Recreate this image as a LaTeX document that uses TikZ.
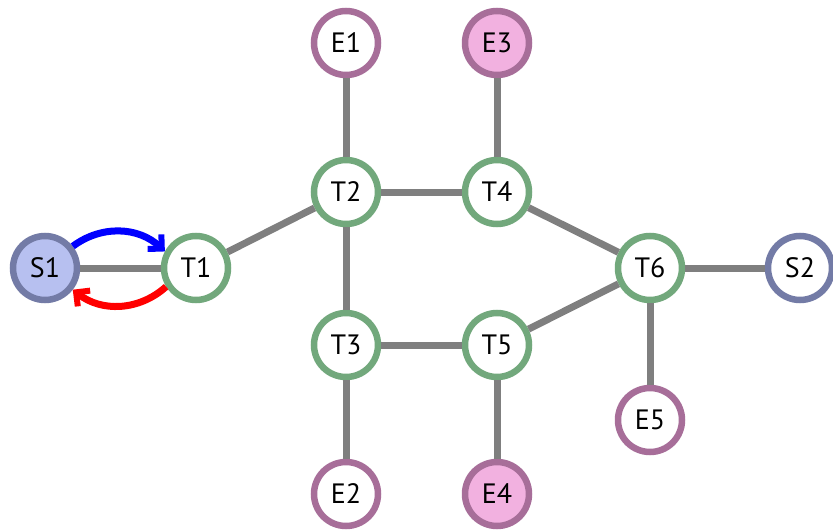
\documentclass[tikz,border=0pt]{standalone}
\usepackage{fontspec}
\setmainfont{PT Sans}
\usetikzlibrary{arrows.meta}
\definecolor{edgegray}{HTML}{7F7F7F}
\definecolor{tgreen}{HTML}{72A87C}
\definecolor{epurple}{HTML}{A76E99}
\definecolor{sblue}{HTML}{737BA6}
\definecolor{sfill}{HTML}{B7C0F0}
\definecolor{pinkfill}{HTML}{F2B1E0}
\begin{document}
\begin{tikzpicture}[x=1pt,y=-1pt,
  vertex/.style={circle,minimum size=64pt,inner sep=0pt,line width=6.5pt,fill=white,
    font=\fontsize{28}{32}\selectfont},
  tnode/.style={vertex,draw=tgreen},
  enode/.style={vertex,draw=epurple},
  epink/.style={enode,fill=pinkfill},
  snode/.style={vertex,draw=sblue},
  sfull/.style={snode,fill=sfill},
  link/.style={draw=edgegray,line width=7pt},
  flow/.style={line width=7pt,-{Straight Barb[length=10pt,width=20pt,line width=6pt]}}]
\useasboundingbox (0,0) rectangle (833,530);
% nodes
\node[sfull] (S1) at (45,268) {S1};
\node[tnode] (T1) at (196,268) {T1};
\node[tnode] (T2) at (346,192) {T2};
\node[tnode] (T4) at (497,192) {T4};
\node[tnode] (T3) at (346,345) {T3};
\node[tnode] (T5) at (497,345) {T5};
\node[tnode] (T6) at (650,268) {T6};
\node[snode] (S2) at (800,268) {S2};
\node[enode] (E1) at (346,43) {E1};
\node[epink] (E3) at (497,43) {E3};
\node[enode] (E2) at (346,494) {E2};
\node[epink] (E4) at (497,494) {E4};
\node[enode] (E5) at (650,420) {E5};
% links, drawn from border to border
\draw[link] (S1) -- (T1);
\draw[link] (T1) -- (T2);
\draw[link] (T2) -- (T4);
\draw[link] (T2) -- (T3);
\draw[link] (T2) -- (E1);
\draw[link] (T4) -- (E3);
\draw[link] (T4) -- (T6);
\draw[link] (T3) -- (T5);
\draw[link] (T3) -- (E2);
\draw[link] (T5) -- (E4);
\draw[link] (T5) -- (T6);
\draw[link] (T6) -- (S2);
\draw[link] (T6) -- (E5);
% flows between S1 and T1
\draw[flow,blue] (S1.38) to[bend left=40] (T1.152);
\draw[flow,red] (T1.212) to[bend left=40] (S1.-38);
\end{tikzpicture}
\end{document}
